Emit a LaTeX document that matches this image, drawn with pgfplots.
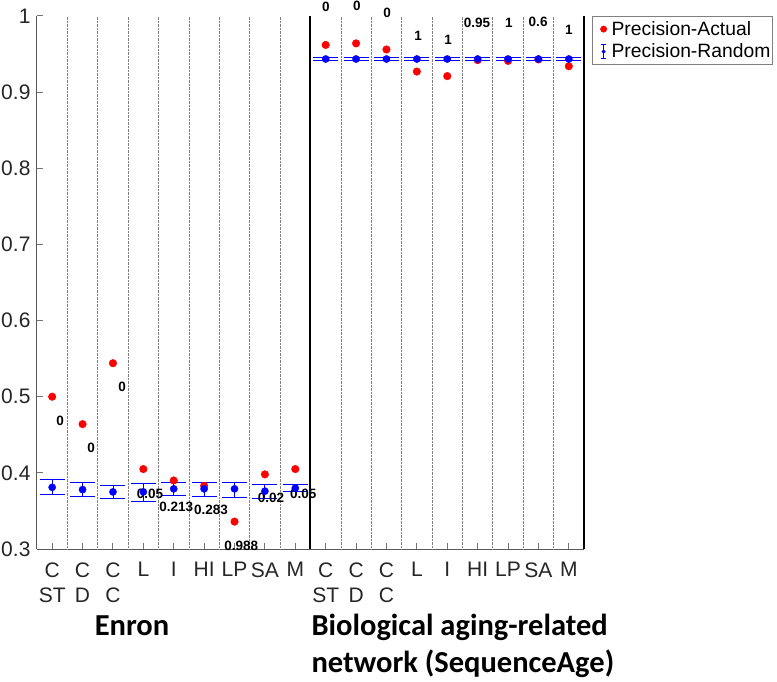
\documentclass[border=0pt]{standalone}
\usepackage{pgfplots}
\usepackage{pgfplotstable}
\pgfplotsset{compat=1.18}
\usepackage{fontspec}
\setmainfont{Liberation Sans}
\newfontfamily\cali{Carlito}

\pgfplotstableread{
x y
1 0.500
2 0.464
3 0.544
4 0.405
5 0.390
6 0.383
7 0.336
8 0.398
9 0.405
10 0.962
11 0.964
12 0.956
13 0.927
14 0.921
15 0.942
16 0.941
17 0.943
18 0.934
}\actual

\pgfplotstableread{
x y ep em
1 0.381 0.0105 0.009
2 0.378 0.009 0.009
3 0.375 0.008 0.008
4 0.375 0.011 0.012
5 0.379 0.0085 0.009
6 0.379 0.0085 0.010
7 0.379 0.009 0.011
8 0.376 0.009 0.009
9 0.380 0.005 0.005
10 0.9435 0.002 0.002
11 0.9435 0.002 0.002
12 0.9435 0.002 0.002
13 0.9435 0.002 0.002
14 0.9435 0.002 0.002
15 0.9435 0.002 0.002
16 0.9435 0.002 0.002
17 0.9435 0.002 0.002
18 0.9435 0.002 0.002
}\random

\begin{document}
\begin{tikzpicture}
\begin{axis}[
  scale only axis, width=547pt, height=533pt,
  xmin=0.5, xmax=18.5, ymin=0.3, ymax=1,
  axis x line*=bottom, axis y line*=left,
  axis line style={draw=black!65, line width=1pt, -},
  xtick={1,...,18},
  xticklabels={{C\\ST},{C\\D},{C\\C},L,I,HI,LP,SA,M,{C\\ST},{C\\D},{C\\C},L,I,HI,LP,SA,M},
  x tick label style={align=center, font=\fontsize{21}{25}\selectfont, text=black!85, yshift=-10pt},
  ytick={0.3,0.4,0.5,0.6,0.7,0.8,0.9,1},
  y tick label style={font=\fontsize{21}{25}\selectfont, text=black!85, xshift=-3pt},
  /pgf/number format/assume math mode=true,
  tick align=inside, major tick length=6pt, tick style={black!55, line width=1pt},
  extra x ticks={1.5,2.5,3.5,4.5,5.5,6.5,7.5,8.5,10.5,11.5,12.5,13.5,14.5,15.5,16.5,17.5},
  extra x tick labels={},
  extra x tick style={major tick length=0pt, grid=major, major grid style={densely dotted, black!50, line width=0.7pt}},
  clip=false,
  legend style={at={(1.015,1)}, anchor=north west, draw=black!50, line width=0.8pt,
    font=\fontsize{19.3}{22}\selectfont, cells={anchor=west}, inner xsep=0pt, inner ysep=3pt,
    row sep=3pt},
]
\addplot[only marks, mark=*, mark size=3.8pt, color=red, mark options={draw=red, fill=red},
  legend image code/.code={\path[draw=none,fill=none] (0pt,0pt) rectangle (17pt,0pt); \fill[red] (11pt,0) circle (3pt);}]
  table[x=x, y=y] {\actual};
\addlegendentry{Precision-Actual}
\addplot[only marks, mark=*, mark size=3.6pt, color=blue, mark options={draw=blue, fill=blue},
  legend image code/.code={
    \path[draw=none,fill=none] (0pt,0pt) rectangle (17pt,0pt);
    \draw[blue, line width=0.7pt] (11pt,-7pt) -- (11pt,7pt);
    \draw[blue, line width=0.7pt] (8.5pt,-7pt) -- (13.5pt,-7pt);
    \draw[blue, line width=0.7pt] (8.5pt,7pt) -- (13.5pt,7pt);
    \fill[blue] (11pt,0) circle (1.5pt);},
  error bars/.cd, y dir=both, y explicit,
  error bar style={draw=blue, line width=0.9pt},
  error mark options={rotate=90, mark size=12.5pt, draw=blue, line width=0.9pt}]
  table[x=x, y=y, y error plus=ep, y error minus=em] {\random};
\addlegendentry{Precision-Random}

% axis frame lines
\draw[black, line width=2pt] (rel axis cs:1,0) -- (rel axis cs:1,1);
\draw[black, line width=2pt] (axis cs:9.5,0.3) -- (axis cs:9.5,1);

% p-value annotations
\begin{scope}[every node/.style={font=\bfseries\fontsize{13.5}{15}\selectfont, inner sep=0pt}]
\node at (axis cs:1.26,0.468) {0};
\node at (axis cs:2.28,0.433) {0};
\node at (axis cs:3.30,0.513) {0};
\node at (axis cs:4.22,0.372) {0.05};
\node at (axis cs:5.08,0.356) {0.213};
\node at (axis cs:6.23,0.351) {0.283};
\node at (axis cs:7.22,0.304) {0.988};
\node at (axis cs:8.20,0.367) {0.02};
\node at (axis cs:9.26,0.372) {0.05};
\node at (axis cs:10.01,1.012) {0};
\node at (axis cs:11.03,1.013) {0};
\node at (axis cs:12.02,1.004) {0};
\node at (axis cs:13.04,0.974) {1};
\node at (axis cs:14.03,0.968) {1};
\node at (axis cs:14.98,0.991) {0.95};
\node at (axis cs:16.03,0.991) {1};
\node at (axis cs:16.99,0.992) {0.6};
\node at (axis cs:18.0,0.982) {1};
\end{scope}

% group labels
\node[font=\cali\bfseries\fontsize{30.5}{37}\selectfont, anchor=base] at (rel axis cs:0.1737,-0.1614) {Enron};
\node[font=\cali\bfseries\fontsize{30.5}{37}\selectfont, anchor=base west] at (rel axis cs:0.4955,-0.1614) {Biological aging-related};
\node[font=\cali\bfseries\fontsize{30.5}{37}\selectfont, anchor=base west] at (rel axis cs:0.4955,-0.2308) {network (SequenceAge)};

\coordinate (bbll) at (rel axis cs:-0.0676,-0.2477);
\coordinate (bbur) at (rel axis cs:1.3528,1.030);
\end{axis}
\pgfresetboundingbox
\useasboundingbox (bbll) rectangle (bbur);
\end{tikzpicture}
\end{document}
